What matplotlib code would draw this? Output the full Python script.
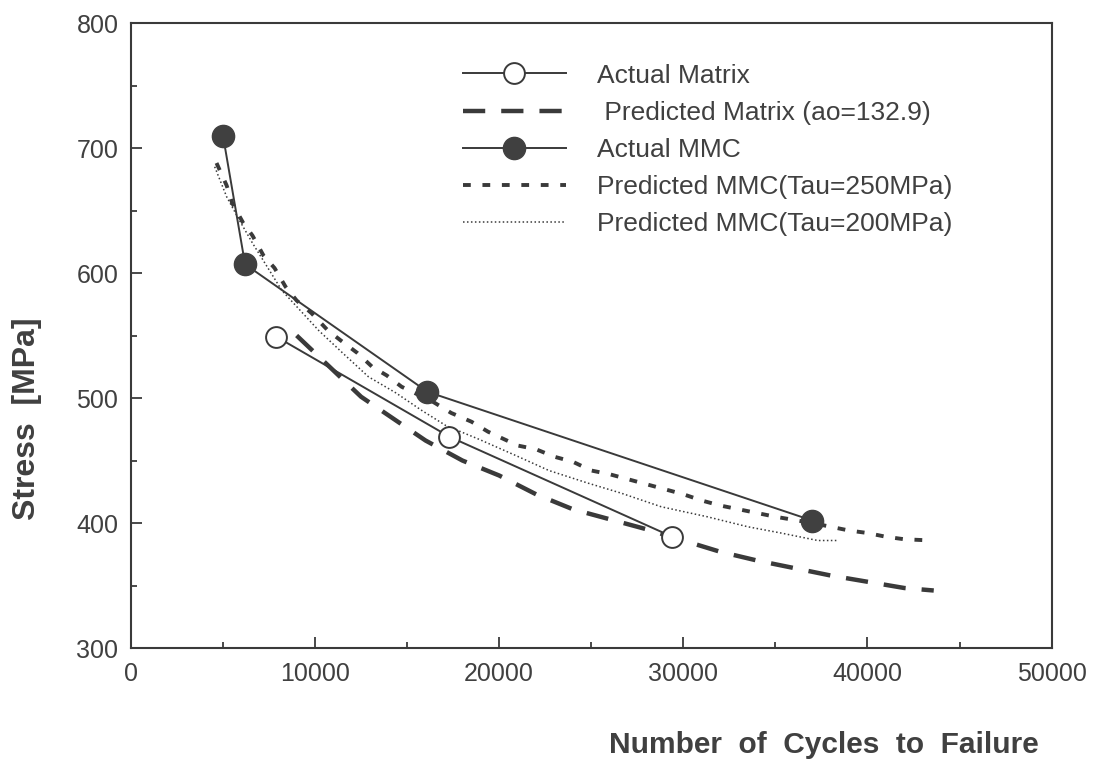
import numpy as np
import matplotlib.pyplot as plt
from matplotlib.ticker import MultipleLocator

plt.rcParams['font.family'] = ['Liberation Sans', 'DejaVu Sans']

# actual matrix (open circles)
mat_x = [7900, 17300, 29400]
mat_y = [549, 469, 389]

# predicted matrix (ao=132.9)
pmat_x = [9000, 11000, 12500, 14400, 16000, 18000, 20000, 22000, 24000, 26000,
          28000, 30000, 32000, 34000, 36000, 38000, 40000, 42000, 43600]
pmat_y = [550, 522, 501, 482, 466, 450, 438, 423, 411, 403,
          395, 386, 377, 370, 364, 358, 353, 348, 346]

# actual MMC (filled circles)
mmc_x = [5000, 6200, 16100, 37000]
mmc_y = [710, 607, 505, 402]

# predicted MMC, tau = 250 MPa
p250_x = [4650, 5200, 5500, 6100, 6600, 7200, 7800, 8400, 9000, 9800, 10700,
          11400, 12300, 13100, 13900, 14700, 16400, 17400, 18500, 19400, 21000,
          22000, 23000, 24000, 25000, 26000, 27000, 28000, 29000, 30000, 31000,
          32000, 33000, 34000, 35000, 37000, 38000, 39000, 40000, 41000, 42000, 43500]
p250_y = [688, 670, 656, 640, 630, 614, 604, 589, 578, 568, 554,
          546, 536, 525, 518, 509, 497, 488, 481, 473, 462,
          459, 453, 449, 442, 439, 435, 431, 427, 423, 418,
          414, 411, 408, 405, 400, 397, 394, 392, 389, 387, 386]

# predicted MMC, tau = 200 MPa
p200_x = [4550, 5200, 5900, 6600, 7400, 8200, 9200, 10200, 11500, 12900, 14400,
          15800, 17100, 18900, 20900, 22700, 24800, 26600, 28800, 31300, 33500,
          35300, 37300, 38400]
p200_y = [685, 661, 642, 624, 605, 586, 570, 554, 536, 517, 504,
          490, 478, 467, 454, 442, 432, 424, 413, 405, 397,
          392, 386, 386]

ink = '#3a3a3a'
txt = '#404040'

fig = plt.figure(figsize=(11, 7.62), dpi=100)
ax = fig.add_axes([0.119, 0.1496, 0.837, 0.8202])

ax.plot(mat_x, mat_y, '-', color=ink, lw=1.4, marker='o', ms=15,
        mfc='white', mec=ink, mew=1.4, label='Actual Matrix', zorder=4)
ax.plot(pmat_x, pmat_y, color=ink, lw=3.2, dashes=(5.0, 3.6),
        label=' Predicted Matrix (ao=132.9)', zorder=3)
ax.plot(mmc_x, mmc_y, '-', color=ink, lw=1.4, marker='o', ms=16,
        mfc='#404040', mec='#404040', label='Actual MMC', zorder=4)
ax.plot(p250_x, p250_y, color=ink, lw=2.8, dashes=(2.0, 3.0),
        label='Predicted MMC(Tau=250MPa)', zorder=3)
ax.plot(p200_x, p200_y, color=ink, lw=1.1, dashes=(1.0, 1.6),
        label='Predicted MMC(Tau=200MPa)', zorder=3)

ax.set_xlim(0, 50000)
ax.set_ylim(300, 800)
ax.xaxis.set_major_locator(MultipleLocator(10000))
ax.xaxis.set_minor_locator(MultipleLocator(5000))
ax.yaxis.set_major_locator(MultipleLocator(100))
ax.yaxis.set_minor_locator(MultipleLocator(50))
ax.tick_params(which='both', direction='in', top=False, right=False,
               color=ink, labelcolor=txt, labelsize=18, width=1.3)
ax.tick_params(axis='x', which='both', pad=10)
ax.tick_params(axis='y', which='both', pad=9)
ax.tick_params(which='major', length=8)
ax.tick_params(which='minor', length=4)
for s in ax.spines.values():
    s.set_color(ink)
    s.set_linewidth(1.5)

fig.text(0.0245, 0.451, 'Stress  [MPa]', fontsize=23, fontweight='bold',
         color=txt, rotation=90, ha='center', va='center')
fig.text(0.944, 0.012, 'Number  of  Cycles  to  Failure', fontsize=21.5,
         fontweight='bold', color=txt, ha='right', va='baseline')

leg = ax.legend(loc='upper left', bbox_to_anchor=(0.349, 0.952), frameon=False,
                fontsize=19, handlelength=3.9, handletextpad=1.2,
                labelspacing=0.5, numpoints=1, borderaxespad=0)
for t in leg.get_texts():
    t.set_color(txt)

fig.savefig('out.png', dpi=100)
